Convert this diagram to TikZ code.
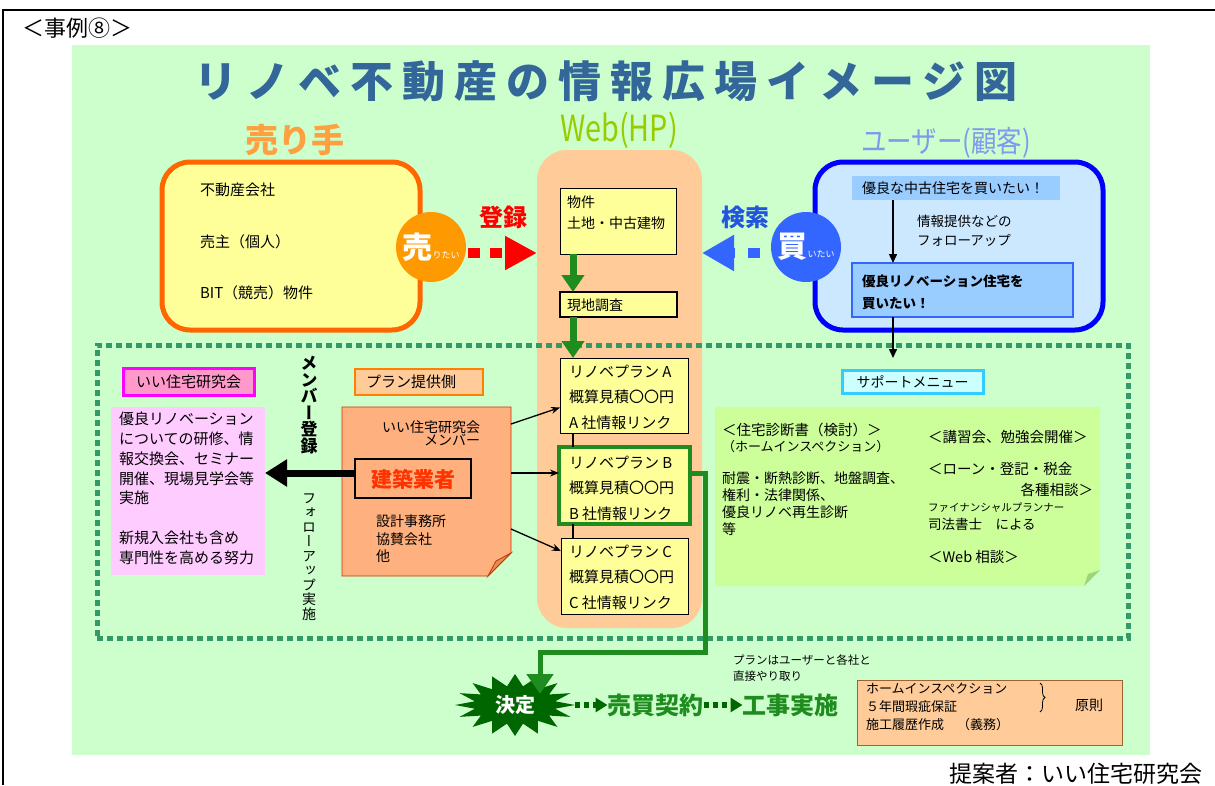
\documentclass[tikz,border=0pt]{standalone}
\usepackage{fontspec}
\setmainfont{Noto Sans CJK JP}
\newfontfamily\vjp[RawFeature=+vert]{Noto Sans CJK JP}
\newfontfamily\ttljp[LetterSpace=21]{Noto Sans CJK JP}
\usetikzlibrary{arrows.meta,calc,decorations.pathreplacing}
\definecolor{bggreen}{HTML}{CCFFCC}
\definecolor{lyellow}{HTML}{FFFF99}
\definecolor{sellorange}{HTML}{FF6600}
\definecolor{peach}{HTML}{FFCC99}
\definecolor{ublue}{HTML}{0000FF}
\definecolor{ulight}{HTML}{CCE8FF}
\definecolor{ubar}{HTML}{99CCFF}
\definecolor{ubord}{HTML}{3366FF}
\definecolor{circorange}{HTML}{FF9900}
\definecolor{circblue}{HTML}{3366FF}
\definecolor{dotgreen}{HTML}{339966}
\definecolor{pinkhead}{HTML}{FF99CC}
\definecolor{magentab}{HTML}{FF00FF}
\definecolor{pinkbox}{HTML}{FFCCFF}
\definecolor{salmon}{HTML}{FFB07F}
\definecolor{notebord}{HTML}{CC3300}
\definecolor{ttlblue}{HTML}{336699}
\definecolor{kgreen}{HTML}{1E8C1E}
\definecolor{dkgreen}{HTML}{006600}
\definecolor{supcyan}{HTML}{CCFFFF}
\definecolor{supbord}{HTML}{33CCFF}
\definecolor{supbox}{HTML}{CCFF99}
\definecolor{bidorange}{HTML}{FF3300}
\definecolor{brownb}{HTML}{996633}
\definecolor{sellhead}{HTML}{FFA040}
\definecolor{userhead}{HTML}{8099EE}
\definecolor{webhead}{HTML}{99CC00}
\definecolor{searchblue}{HTML}{2255DD}
\newcommand\jfs[2]{\fontsize{#1}{#2}\selectfont}
\begin{document}
\begin{tikzpicture}[x=1pt,y=-1pt,
  every node/.style={inner sep=0pt, outer sep=0pt},
  lbl/.style={anchor=west, align=left},
  plantext/.style={lbl, font=\jfs{15}{25.5}},
  planbox/.style={draw, fill=lyellow, line width=1pt},
  gonarrow/.style={kgreen, line width=7pt, -{Triangle[length=17pt,width=22pt]}},
  thinarrow/.style={line width=1.3pt, -{Stealth[length=9pt,width=7pt]}},
  chain/.style={dkgreen, line width=6pt, dash pattern=on 5pt off 4pt, -{Triangle[length=12pt,width=14pt]}},
]
\useasboundingbox (0,0) rectangle (1215,785);
\fill[white] (0,0) rectangle (1215,785);
% frame
\draw[line width=1.5pt] (3,785) -- (3,10) -- (1215,10);
\node[anchor=west, font=\jfs{22}{22}] (case) at (22,28) {＜事例⑧＞};
% background
\fill[bggreen] (72,45) rectangle (1150,755);
% title
\node[font=\ttljp\bfseries\jfs{43}{43}, text=ttlblue] (title) at (606,81) {リノベ不動産の情報広場イメージ図};
% headings
\node[font=\bfseries\jfs{33}{33}, text=sellhead] (sellerhead) at (295,140) {売り手};
\node[font=\jfs{36}{36}, text=webhead] (webhp) at (619,130) {\scalebox{0.8}[1]{Web(HP)}};
\node[font=\jfs{30}{30}, text=userhead] (userh) at (946,143) {\scalebox{0.85}[1]{ユーザー(顧客)}};

% seller box
\node[draw=sellorange, line width=5pt, fill=lyellow, rounded corners=28pt, minimum width=258pt, minimum height=168pt] (sellbox) at (291,246) {};
\node[lbl, font=\jfs{15}{15}] (s1) at (200,190) {不動産会社};
\node[lbl, font=\jfs{15}{15}] (s2) at (200,242) {売主（個人）};
\node[lbl, font=\jfs{15}{15}] (s3) at (200,293) {BIT（競売）物件};
\node[circle, fill=circorange, minimum size=70pt, text=white] (sellc) at (431,247) {{\bfseries\jfs{30}{30}売}{\jfs{9}{9}りたい}};
\node[text=red, font=\bfseries\jfs{24}{24}] (touroku) at (503,217) {登録};

% web column
\node[fill=peach, rounded corners=30pt, minimum width=165pt, minimum height=478pt] (webcol) at (619.5,389) {};

% user box
\node[draw=ublue, line width=5pt, fill=ulight, rounded corners=28pt, minimum width=288pt, minimum height=168pt] (userbox) at (959,246) {};
\node[circle, fill=circblue, minimum size=70pt, text=white] (buyc) at (806,247) {{\bfseries\jfs{30}{30}買}{\jfs{9}{9}いたい}};
\node[text=searchblue, font=\bfseries\jfs{24}{24}] (kensaku) at (745,217) {検索};
\node[fill=ubar, minimum width=208pt, minimum height=24pt] (want1) at (956,188) {};
\node[lbl, font=\jfs{14}{14}] (want1t) at (862,188) {優良な中古住宅を買いたい！};
\node[draw=ubord, line width=2.5pt, fill=ubar, minimum width=221pt, minimum height=54pt] (want2) at (962.5,290) {};
\node[lbl, font=\bfseries\jfs{13.5}{22}] (want2t) at (862,292) {優良リノベーション住宅を\\買いたい！};
\node[lbl, font=\jfs{13.5}{19}] (follow) at (917,231) {情報提供などの\\フォローアップ};
\coordinate (ux) at (893,0);
\draw[line width=1.5pt, -{Triangle[length=9pt,width=8pt]}] (want1.south -| ux) -- (want2.north -| ux);
\coordinate (supin) at (893,358);
\draw[line width=1.5pt, -{Triangle[length=9pt,width=8pt]}] (want2.south -| ux) -- (supin);

% registration / search arrows
\coordinate (ay) at (0,253);
\draw[red, line width=10pt, dash pattern=on 12pt off 10pt, -{Triangle[length=32pt,width=32pt]}, shorten <=2pt] (sellc.east |- ay) -- (webcol.west |- ay);
\draw[circblue, line width=10pt, dash pattern=on 12pt off 13pt, -{Triangle[length=32pt,width=34pt]}, shorten <=11pt] (buyc.west |- ay) -- (webcol.east |- ay);

% dotted member area
\node[draw=dotgreen, line width=5pt, dash pattern=on 6pt off 4pt, minimum width=1031pt, minimum height=293pt] (dotarea) at (612.5,491.5) {};

% web column contents
\node[planbox, minimum width=116pt, minimum height=66pt] (thing) at (618,221) {};
\node[lbl, font=\jfs{14}{21}] (thingt) at (567,213) {物件\\土地・中古建物};
\node[draw, fill=lyellow, line width=1.5pt, minimum width=117pt, minimum height=25pt] (genchi) at (618.5,304.5) {};
\node[lbl, font=\jfs{14}{14}] (genchit) at (567,305) {現地調査};
\node[planbox, minimum width=128pt, minimum height=75pt] (planA) at (624,395.5) {};
\node[plantext] (pAt) at (569,397) {リノベプラン A\\概算見積〇〇円\\A 社情報リンク};
\node[draw=kgreen, fill=lyellow, line width=4pt, minimum width=131pt, minimum height=77pt] (planB) at (624.5,485.5) {};
\node[plantext] (pBt) at (569,488) {リノベプラン B\\概算見積〇〇円\\B 社情報リンク};
\node[planbox, minimum width=127pt, minimum height=76pt] (planC) at (624.5,576) {};
\node[plantext] (pCt) at (569,577) {リノベプラン C\\概算見積〇〇円\\C 社情報リンク};
\coordinate (gx) at (573,0);
\draw[gonarrow] (thing.south -| gx) -- (genchi.north -| gx);
\draw[gonarrow] (genchi.south -| gx) -- (planA.north -| gx);
\draw[line width=1.2pt] (planA.south -| gx) -- (planB.north -| gx);
\draw[line width=1.2pt] (planB.south -| gx) -- (planC.north -| gx);

% left: research group
\node[draw=magentab, line width=3pt, fill=pinkhead, minimum width=131pt, minimum height=27pt] (ihead) at (188.5,382) {};
\node[font=\jfs{15}{15}] (iheadt) at (188.5,382) {いい住宅研究会};
\node[fill=pinkbox, minimum width=154pt, minimum height=168pt] (pinkb) at (188,491) {};
\node[anchor=north west, align=left, font=\jfs{15}{19.8}] (pinkt) at (119,412) {優良リノベーション\\についての研修、情\\報交換会、セミナー\\開催、現場見学会等\\実施\\[19.8pt]新規入会社も含め\\専門性を高める努力};
\node[font=\vjp\bfseries\jfs{17}{16.5}, align=center] (member) at (309,405) {メ\\ン\\バ\\ー\\登\\録};
\node[font=\vjp\jfs{14}{14.5}, align=center] (followup) at (309,557) {フ\\ォ\\ロ\\ー\\ア\\ッ\\プ\\実\\施};

% plan provider
\node[draw=orange, line width=1.2pt, fill=peach, minimum width=128pt, minimum height=26pt] (planhead) at (419,382) {};
\node[lbl, font=\jfs{15}{15}] (planheadt) at (366,382) {プラン提供側};
\filldraw[fill=salmon, draw=notebord, line width=0.8pt] (342,407) -- (511,407) -- (511,553) -- (488,576) -- (342,576) -- cycle;
\filldraw[fill=brown!60!salmon, draw=notebord, line width=0.8pt] (511,553) -- (496,561) -- (488,576) -- cycle;
\node[anchor=east, align=right, font=\jfs{14}{13}] (membert) at (480,433) {いい住宅研究会\\メンバー};
\node[draw, line width=1.2pt, fill=salmon, minimum width=116pt, minimum height=39pt] (kenchiku) at (413,478.5) {};
\node[text=bidorange, font=\bfseries\jfs{21}{21}] (kenchikut) at (413,479) {建築業者};
\node[anchor=north west, align=left, font=\jfs{14}{17.5}] (sekkei) at (376,515) {設計事務所\\協賛会社\\他};
\coordinate (ay2) at (0,473);
\draw[line width=7pt, -{Triangle[length=22pt,width=26pt]}] (kenchiku.west |- ay2) -- (pinkb.east |- ay2);
\coordinate (n1) at (511,424);
\coordinate (n2) at (511,473);
\coordinate (n3) at (511,529);
\draw[thinarrow] (n1) -- ($(planA.west)+(0,12)$);
\draw[thinarrow] (n2) -- (planB.west |- ay2);
\draw[thinarrow] (n3) -- ($(planC.west)+(0,-25)$);

% support menu
\node[draw=supbord, line width=3pt, fill=supcyan, minimum width=141pt, minimum height=23pt] (suph) at (912.5,381.5) {};
\node[font=\jfs{14}{14}] (supht) at (912.5,381.5) {サポートメニュー};
\fill[supbox] (715,407) -- (1100,407) -- (1100,570) -- (1084,586) -- (715,586) -- cycle;
\fill[supbox!70!green!60!black!40!supbox] (1100,570) -- (1088,574) -- (1084,586) -- cycle;
\node[lbl, font=\jfs{14.5}{14.5}] (sup1) at (722,430) {＜住宅診断書（検討）＞};
\node[lbl, font=\jfs{13}{13}] (sup2) at (722,447) {（ホームインスペクション）};
\node[anchor=north west, align=left, font=\jfs{14}{17}] (sup3) at (722,472) {耐震・断熱診断、地盤調査、\\権利・法律関係、\\優良リノベ再生診断\\等};
\node[lbl, font=\jfs{14.5}{14.5}] (sup4) at (928,437) {＜講習会、勉強会開催＞};
\node[lbl, font=\jfs{14.5}{14.5}] (sup5) at (928,469) {＜ローン・登記・税金};
\node[anchor=east, font=\jfs{14.5}{14.5}] (sup6) at (1093,490) {各種相談＞};
\node[lbl, font=\jfs{10.5}{10.5}] (sup7) at (928,508) {ファイナンシャルプランナー};
\node[lbl, font=\jfs{13.5}{13.5}] (sup8) at (928,524) {司法書士　による};
\node[lbl, font=\jfs{14.5}{14.5}] (sup9) at (928,557) {＜Web 相談＞};

% decision
\fill[dkgreen] (575,705) \foreach \i in {1,...,31}{ -- ({515+ifthenelse(mod(\i,2)==0,60,41)*cos(\i*11.25)},{705+ifthenelse(mod(\i,2)==0,31,19)*sin(\i*11.25)}) } -- cycle;
\node[text=white, font=\bfseries\jfs{20}{20}] (dec) at (515,705) {決定};
\coordinate (g1) at (705,652);
\coordinate (g2) at (540,652);
\coordinate (g3) at (540,694);
\draw[kgreen, line width=5pt, -{Triangle[length=20pt,width=26pt]}] (planB.east |- ay2) -| (g1) -- (g2) -- (g3);
\node[text=kgreen, font=\bfseries\jfs{24}{24}] (baibai) at (655.5,705) {売買契約};
\node[text=kgreen, font=\bfseries\jfs{24}{24}] (kouji) at (790.5,705) {工事実施};
\coordinate (decE) at (575,705);
\draw[chain] (decE) -- (baibai.west);
\draw[chain] (baibai.east) -- (kouji.west);
\node[anchor=north west, align=left, font=\jfs{11.5}{16}] (direct) at (733,655) {プランはユーザーと各社と\\直接やり取り};

% obligations
\node[draw=brownb, line width=1pt, fill=peach, minimum width=265pt, minimum height=65pt] (oblig) at (989.5,712.5) {};
\node[anchor=north west, align=left, font=\jfs{13}{18}] (obligt) at (866,683) {ホームインスペクション\\ ５年間瑕疵保証\\施工履歴作成　（義務）};
\draw[line width=0.8pt, decorate, decoration={brace, amplitude=5pt}] (1040,683) -- (1040,712);
\node[lbl, font=\jfs{14}{14}] (gensoku) at (1075,705) {原則};

\node[anchor=east, font=\jfs{23}{23}] (teian) at (1202,774) {提案者：いい住宅研究会};
\end{tikzpicture}
\end{document}
